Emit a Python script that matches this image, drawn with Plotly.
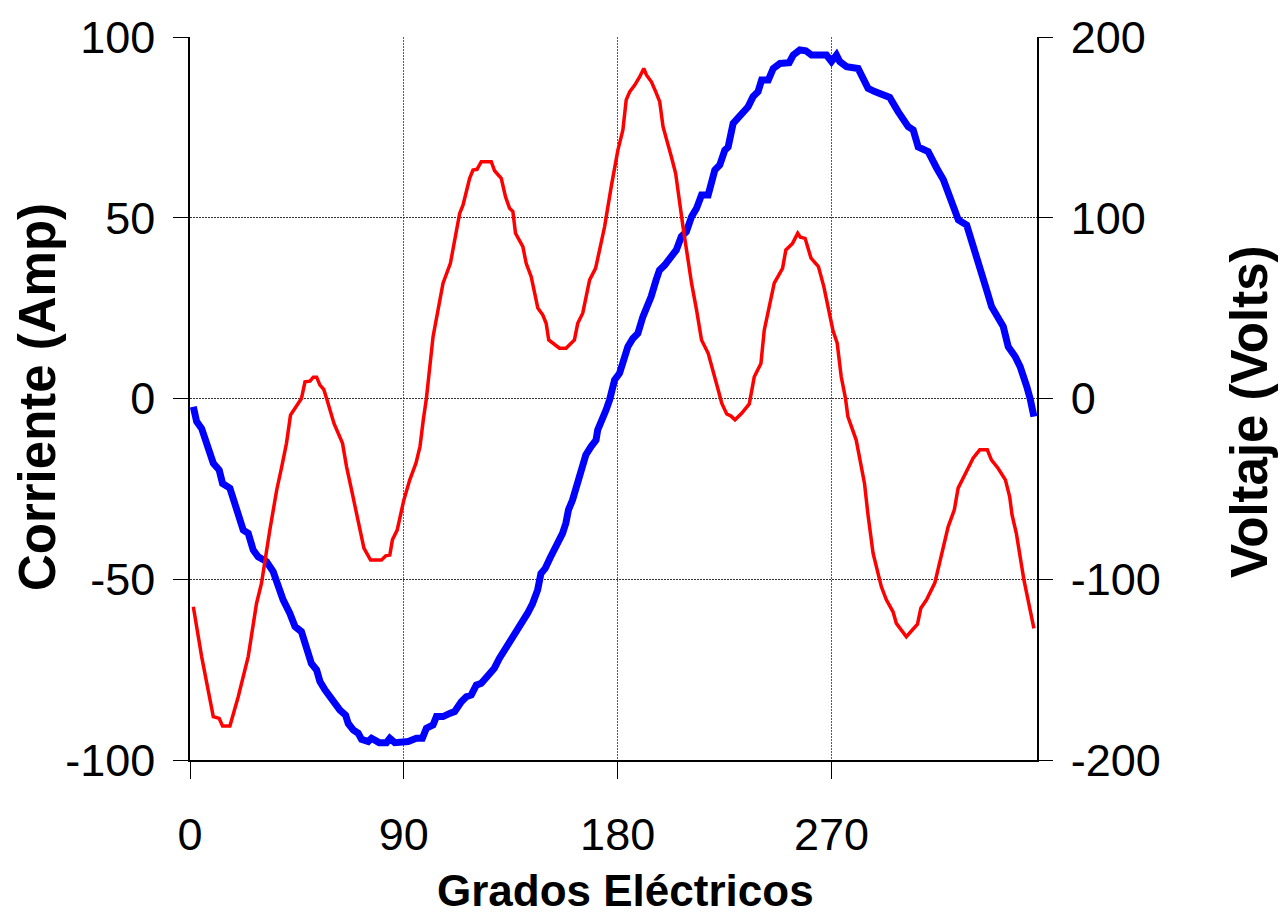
import plotly.graph_objects as go

# Electrical degrees and measured waveforms over one cycle
corriente_grados = [1.4, 4.9, 9.8, 12.3, 13.7, 16.8, 20.3, 24.5, 28.0, 30.1, 33.6, 36.5, 38.6, 40.6,
                    42.3, 46.9, 48.4, 50.5, 51.9, 53.3, 54.7, 56.3, 57.5, 60.6, 64.2, 65.9, 68.0,
                    71.5, 73.2, 76.0, 80.6, 82.4, 84.1, 85.2, 87.2, 90.0, 92.5, 95.1, 96.8, 98.2,
                    99.5, 102.3, 104.8, 106.5, 109.6, 111.4, 113.5, 114.9, 117.7, 119.1, 120.8,
                    122.6, 126.8, 128.2, 131.0, 132.8, 134.5, 135.9, 137.0, 140.1, 141.5, 143.6,
                    146.4, 148.5, 149.9, 151.0, 152.7, 155.5, 158.3, 161.8, 163.2, 165.3, 168.2,
                    170.7, 172.1, 174.5, 177.3, 180.1, 182.2, 183.6, 185.1, 187.2, 189.3, 191.0,
                    192.1, 194.2, 196.0, 197.7, 199.1, 200.5, 202.6, 204.4, 206.1, 207.5, 209.2,
                    211.1, 213.2, 215.3, 218.1, 220.2, 222.3, 223.8, 225.9, 227.6, 229.4, 232.2,
                    235.4, 237.5, 240.3, 241.7, 243.1, 245.9, 249.4, 250.8, 253.6, 255.8, 256.9,
                    258.9, 261.4, 264.5, 266.8, 269.1, 270.6, 272.4, 274.1, 275.9, 276.9, 280.4,
                    283.9, 285.3, 287.5, 291.0, 293.1, 295.9, 297.3, 301.5, 306.2, 307.6, 310.0,
                    313.5, 317.0, 319.1, 321.7, 323.3, 327.5, 329.6, 332.4, 335.6, 337.3, 340.1,
                    343.2, 345.0, 346.0, 347.8, 351.0, 353.4, 355.2]
corriente_amp = [-57.6, -71.4, -88.0, -88.5, -90.6, -90.6, -82.5, -71.4, -56.7, -51.1, -36.4, -25.3,
                 -18.9, -12.4, -4.6, 0.0, 4.6, 4.8, 5.9, 5.9, 3.7, 2.5, 0.0, -6.9, -12.4, -18.9,
                 -25.3, -36.4, -41.4, -44.7, -44.7, -43.5, -43.3, -39.1, -36.4, -28.1, -22.5,
                 -17.9, -13.3, -5.9, 0.0, 17.1, 25.4, 31.9, 37.4, 43.8, 51.2, 53.5, 60.9, 63.2,
                 63.4, 65.5, 65.5, 63.0, 60.9, 55.8, 52.6, 51.7, 45.7, 42.0, 37.4, 33.7, 25.0,
                 23.1, 20.8, 16.2, 15.3, 13.9, 13.9, 16.2, 20.8, 23.6, 32.8, 36.0, 40.2, 47.5,
                 58.6, 68.7, 74.3, 82.6, 84.9, 86.7, 89.0, 91.3, 89.5, 87.6, 84.9, 82.1, 75.2,
                 71.5, 66.9, 62.3, 53.1, 47.5, 40.2, 31.9, 24.5, 16.2, 12.5, 7.0, 2.4, -1.3, -4.3,
                 -4.8, -5.9, -4.1, -1.5, 6.0, 9.7, 18.9, 23.6, 31.9, 36.0, 41.1, 42.9, 45.7, 44.6,
                 44.3, 38.8, 36.5, 30.9, 23.6, 18.9, 15.3, 6.0, 0.0, -5.0, -11.5, -23.5, -31.8,
                 -42.8, -52.1, -55.7, -59.0, -62.2, -65.9, -62.4, -58.0, -55.7, -51.0, -41.9,
                 -35.5, -30.8, -24.8, -19.3, -16.5, -14.2, -14.2, -17.0, -19.3, -22.5, -27.2,
                 -32.2, -37.3, -50.2, -57.6, -63.6]

voltaje_grados = [1.4, 2.8, 4.9, 7.0, 9.8, 12.3, 13.7, 16.8, 19.6, 22.4, 24.5, 26.6, 28.7, 32.2,
                  35.0, 37.1, 39.2, 42.0, 44.2, 46.9, 49.0, 51.1, 53.3, 54.7, 56.8, 58.9, 61.0,
                  63.1, 65.5, 66.6, 68.7, 70.8, 72.2, 75.0, 76.4, 79.6, 82.7, 84.1, 86.2, 89.7,
                  91.8, 95.3, 97.8, 99.5, 102.3, 103.7, 106.5, 109.3, 111.4, 114.2, 116.3, 118.4,
                  120.5, 122.6, 125.3, 128.1, 130.2, 133.0, 135.1, 137.2, 140.0, 142.1, 144.2,
                  146.3, 147.7, 149.5, 151.5, 153.3, 155.4, 156.8, 158.2, 159.3, 161.0, 162.7,
                  165.2, 166.6, 168.8, 170.9, 171.6, 173.7, 175.1, 176.6, 178.7, 180.8, 182.2,
                  184.3, 186.4, 188.5, 190.6, 192.7, 194.1, 196.2, 197.6, 199.8, 202.6, 204.7,
                  206.8, 208.9, 211.1, 213.2, 215.3, 218.1, 220.9, 223.0, 225.1, 226.5, 228.6,
                  231.4, 234.9, 237.0, 239.1, 240.6, 243.4, 245.5, 248.3, 252.2, 253.9, 256.7,
                  259.2, 261.6, 267.9, 270.0, 272.1, 273.5, 276.3, 281.2, 283.3, 285.4, 288.2,
                  291.0, 294.5, 298.1, 300.2, 302.3, 304.4, 306.5, 310.7, 312.9, 314.3, 317.1,
                  318.5, 320.6, 323.4, 326.9, 329.0, 330.4, 333.2, 335.3, 337.4, 340.2, 342.3,
                  344.4, 347.3, 349.4, 350.8, 352.2, 353.6, 355.2]
voltaje_volts = [-4.6, -12.8, -16.6, -25.8, -35.8, -39.6, -47.0, -49.6, -61.6, -72.8, -74.6, -83.8,
                 -87.6, -90.2, -95.8, -104.2, -111.4, -118.8, -126.2, -129.0, -139.2, -146.6,
                 -150.2, -156.6, -161.2, -165.0, -169.6, -172.4, -175.2, -179.8, -183.4, -185.2,
                 -188.6, -189.8, -188.0, -190.4, -190.4, -188.0, -190.4, -190.4, -189.8, -188.0,
                 -188.0, -182.4, -180.6, -176.0, -176.0, -174.2, -173.2, -167.8, -165.0, -164.0,
                 -158.6, -157.6, -154.0, -149.2, -143.8, -138.2, -132.6, -129.0, -122.6, -118.8,
                 -113.4, -106.0, -96.8, -94.0, -88.4, -83.8, -79.2, -74.6, -69.0, -61.6, -56.2,
                 -48.8, -37.8, -31.2, -26.6, -23.0, -17.4, -11.8, -6.4, -0.8, 10.2, 14.0, 19.4,
                 28.6, 33.2, 36.0, 45.2, 50.8, 56.4, 65.6, 71.0, 73.8, 79.4, 82.2, 89.6, 92.2,
                 100.6, 105.2, 112.6, 112.6, 126.4, 129.2, 137.4, 139.2, 152.2, 156.0, 161.4,
                 167.0, 169.8, 176.2, 176.2, 182.6, 185.4, 185.8, 190.0, 192.8, 192.4, 190.0,
                 190.0, 186.4, 190.0, 186.4, 183.6, 182.6, 176.2, 171.6, 169.8, 168.0, 166.6,
                 158.6, 154.0, 150.4, 148.6, 139.2, 136.6, 132.0, 127.4, 121.0, 116.2, 108.8,
                 98.8, 96.0, 87.6, 80.4, 69.2, 60.0, 50.8, 43.4, 39.8, 28.6, 23.2, 17.6, 10.2,
                 6.6, 0.0, -10.0]

grados_ticks = [0, 90, 180, 270]
grados_labels = ["0", "90", "180", "270"]
amp_ticks = [-100, -50, 0, 50, 100]
amp_labels = ["-100", "-50", "0", "50", "100"]
volt_ticks = [-200, -100, 0, 100, 200]
volt_labels = ["-200", "-100", "0", "100", "200"]

TICK_FONT = dict(family="Arial, Liberation Sans, sans-serif", size=45, color="black")
TITLE_FONT = dict(family="Arial, Liberation Sans, sans-serif", size=51, color="black", weight="bold")

fig = go.Figure()

# Voltage on the primary (right) axis, current overlaid so it sits on top
fig.add_trace(go.Scatter(x=voltaje_grados, y=voltaje_volts, mode="lines",
                         line=dict(color="#0000FF", width=7), xaxis="x", yaxis="y",
                         showlegend=False, hoverinfo="skip"))
fig.add_trace(go.Scatter(x=corriente_grados, y=corriente_amp, mode="lines",
                         line=dict(color="#FF0000", width=3.5), xaxis="x", yaxis="y2",
                         showlegend=False, hoverinfo="skip"))

x_range = [0, 356.5]

fig.update_layout(
    width=1283, height=921, autosize=False,
    margin=dict(l=190, r=246, t=37, b=161, pad=0),
    paper_bgcolor="white", plot_bgcolor="white",
    showlegend=False,
    xaxis=dict(range=x_range, tickmode="array", tickvals=grados_ticks, ticktext=grados_labels,
               ticks="outside", ticklen=17, tickcolor="black", tickwidth=1,
               showline=True, linecolor="black", linewidth=1.5,
               showgrid=True, gridcolor="#5a5a5a", gridwidth=1, griddash="2px,1px",
               zeroline=False, tickfont=TICK_FONT, ticklabelstandoff=17,
               anchor="y"),
    xaxis2=dict(range=x_range, overlaying="x", anchor="y", tickmode="array",
                tickvals=grados_ticks, ticks="inside", ticklen=18, tickcolor="black",
                showticklabels=False, showline=False, showgrid=False, zeroline=False),
    yaxis=dict(range=[-200, 200], tickmode="array", tickvals=volt_ticks, ticktext=volt_labels,
               side="right", ticks="outside", ticklen=14, tickcolor="black",
               showline=True, linecolor="black", linewidth=1.5,
               showgrid=False, zeroline=False, tickfont=TICK_FONT,
               ticklabelstandoff=9, anchor="x"),
    yaxis2=dict(range=[-100, 100], tickmode="array", tickvals=amp_ticks, ticktext=amp_labels,
                side="left", overlaying="y", anchor="x",
                ticks="outside", ticklen=15, tickcolor="black",
                showline=True, linecolor="black", linewidth=1.5,
                showgrid=True, gridcolor="#333333", gridwidth=1, griddash="2px,1px",
                zeroline=False, tickfont=TICK_FONT, ticklabelstandoff=9),
    yaxis3=dict(range=[-100, 100], tickmode="array", tickvals=amp_ticks, side="left",
                overlaying="y", anchor="x", ticks="inside", ticklen=15, tickcolor="black",
                showticklabels=False, showline=False, showgrid=False, zeroline=False),
    yaxis4=dict(range=[-200, 200], tickmode="array", tickvals=volt_ticks, side="right",
                overlaying="y", anchor="x", ticks="inside", ticklen=15, tickcolor="black",
                showticklabels=False, showline=False, showgrid=False, zeroline=False),
)

fig.add_annotation(text="Corriente (Amp)", xref="paper", yref="paper",
                   x=-0.1806, y=0.502, xanchor="center", yanchor="middle",
                   textangle=-90, showarrow=False, font=TITLE_FONT)
fig.add_annotation(text="Voltaje (Volts)", xref="paper", yref="paper",
                   x=1.250, y=0.481, xanchor="center", yanchor="middle",
                   textangle=-90, showarrow=False, font=TITLE_FONT)
fig.add_annotation(text="Grados Eléctricos", xref="paper", yref="paper",
                   x=0.514, y=-0.181, xanchor="center", yanchor="middle",
                   showarrow=False,
                   font=dict(family="Arial, Liberation Sans, sans-serif",
                             size=44, color="black", weight="bold"))

fig.write_html("out.html")
